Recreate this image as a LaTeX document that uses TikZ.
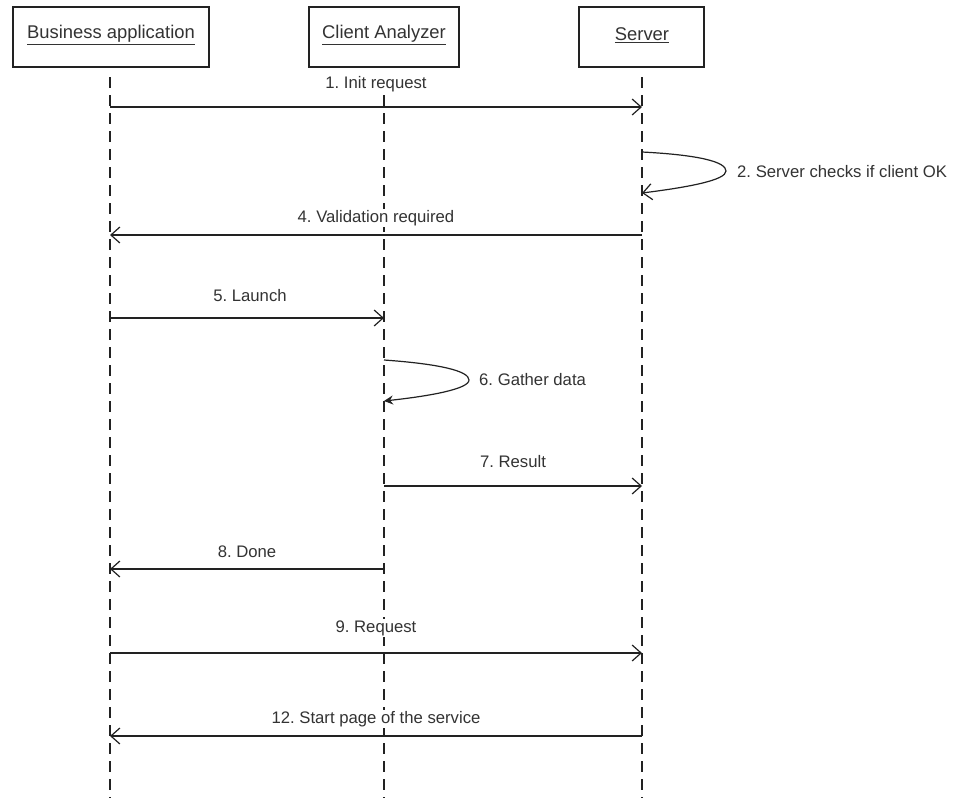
\documentclass[tikz,border=0pt]{standalone}
\usepackage{fontspec}
\setmainfont{Liberation Sans}
\usetikzlibrary{arrows.meta}
\frenchspacing
\definecolor{ink}{HTML}{222222}
\definecolor{txt}{HTML}{333333}
\tikzset{
  objbox/.style={draw=ink, line width=1.2pt, minimum height=60pt, inner sep=0pt},
  objtitle/.style={text=txt, inner sep=0pt, font=\fontsize{18.4}{21}\selectfont},
  lifeline/.style={draw=ink, line width=1.2pt, dash pattern=on 11pt off 7pt},
  msg/.style={draw=ink, line width=1.2pt, -{Straight Barb[length=9pt,width=16pt,line width=1.2pt]}},
  selfmsg/.style={draw=ink, line width=1.2pt, -{Stealth[length=9pt,width=9pt]}},
  selfopen/.style={draw=ink, line width=1.2pt, -{Straight Barb[length=9pt,width=16pt,line width=1.2pt]}},
  lbl/.style={fill=white, inner sep=1pt, text=txt, font=\fontsize{16.7}{19}\selectfont}
}
\begin{document}
\begin{tikzpicture}[x=1pt,y=-1pt]
\useasboundingbox[fill=white] (0,0) rectangle (974,798);
% objects
\node[objbox, minimum width=196pt] (ba) at (111,37) {};
\node[objbox, minimum width=150pt] (ca) at (384,37) {};
\node[objbox, minimum width=125pt] (sv) at (641.5,37) {};
\node[objtitle] (bat) at (111,35) {\underline{Business application}};
\node[objtitle] (cat) at (384,35) {\underline{Client Analyzer}};
\node[objtitle] (svt) at (642,35) {\underline{Server}};
% lifeline ends
\coordinate (baT) at (110,77); \coordinate (baB) at (110,798);
\coordinate (caT) at (384,77); \coordinate (caB) at (384,798);
\coordinate (svT) at (642,77); \coordinate (svB) at (642,798);
\draw[lifeline] (baT) -- (baB);
\draw[lifeline] (caT) -- (caB);
\draw[lifeline] (svT) -- (svB);
% message points
\coordinate (b1) at (110,107); \coordinate (s1) at (642,107);
\coordinate (s2a) at (642,152); \coordinate (s2b) at (642,193);
\coordinate (s4) at (642,235); \coordinate (b4) at (110,235);
\coordinate (b5) at (110,318); \coordinate (c5) at (384,318);
\coordinate (c6a) at (384,360); \coordinate (c6b) at (384,401);
\coordinate (c7) at (384,486); \coordinate (s7) at (642,486);
\coordinate (c8) at (384,569); \coordinate (b8) at (110,569);
\coordinate (b9) at (110,653); \coordinate (s9) at (642,653);
\coordinate (s12) at (642,736); \coordinate (b12) at (110,736);
% labels (drawn first so arrows stay on top)
\node[lbl] (l1) at (376,84) {1. Init request};
\node[lbl, anchor=west] (l2) at (736,172) {2. Server checks if client OK};
\node[lbl] (l4) at (376,218) {4. Validation required};
\node[lbl] (l5) at (250,296) {5. Launch};
\node[lbl, anchor=west] (l6) at (478,380) {6. Gather data};
\node[lbl] (l7) at (513,462) {7. Result};
\node[lbl] (l8) at (247,552) {8. Done};
\node[lbl] (l9) at (376,628) {9. Request};
\node[lbl] (l12) at (376,719) {12. Start page of the service};
% messages
\draw[msg] (b1) -- (s1);
\draw[selfopen] (s2a) .. controls (700,155) and (726,162) .. (726,171) .. controls (726,180) and (690,187) .. (s2b);
\draw[msg] (s4) -- (b4);
\draw[msg] (b5) -- (c5);
\draw[selfmsg] (c6a) .. controls (440,364) and (469,371) .. (469,380) .. controls (469,389) and (430,396) .. (c6b);
\draw[msg] (c7) -- (s7);
\draw[msg] (c8) -- (b8);
\draw[msg] (b9) -- (s9);
\draw[msg] (s12) -- (b12);
\end{tikzpicture}
\end{document}
